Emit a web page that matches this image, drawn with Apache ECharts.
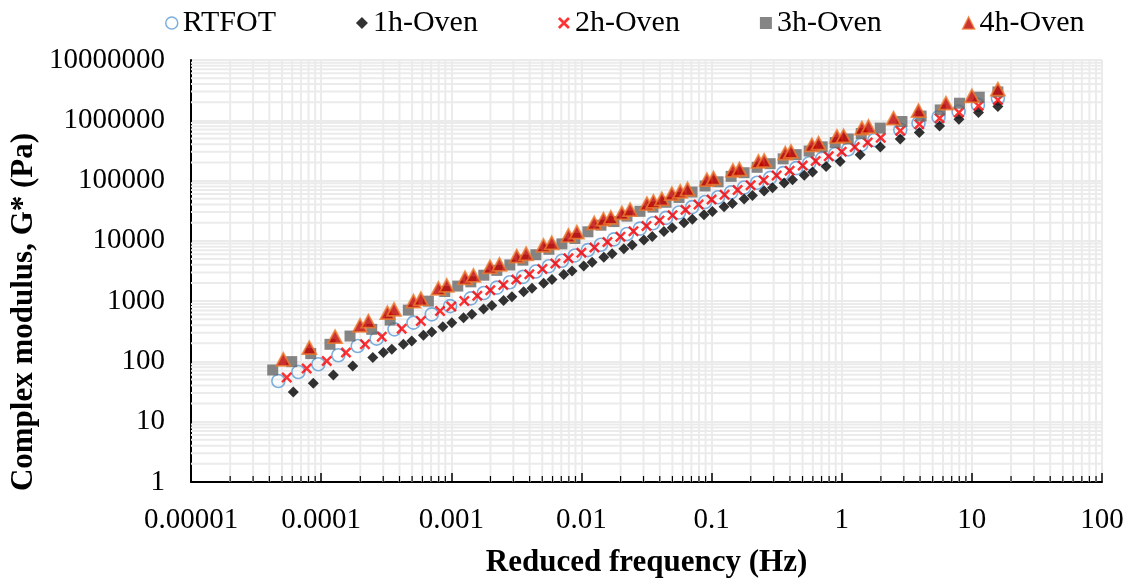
<!DOCTYPE html>
<html>
<head>
<meta charset="utf-8">
<script src="https://cdn.jsdelivr.net/npm/echarts@6/dist/echarts.min.js"></script>
<style>
  html, body { margin: 0; padding: 0; background: #fff; }
  #chart { width: 1133px; height: 583px; }
</style>
</head>
<body>
<div id="chart"></div>
<script>
// [reduced frequency (Hz), |G*| (Pa)]
const rtfot = [
  [4.69e-5, 47.4], [6.68e-5, 66.8], [9.51e-5, 89.7], [1.355e-4, 126.5], [1.91e-4, 180.3],
  [2.67e-4, 238.8], [3.66e-4, 340.4], [5.12e-4, 439.5], [7.08e-4, 602.6], [9.79e-4, 826],
  [1.413e-3, 1112], [1.778e-3, 1365], [2.239e-3, 1675], [2.818e-3, 2056], [3.548e-3, 2523],
  [4.467e-3, 3097], [5.623e-3, 3802], [7.079e-3, 4667], [8.913e-3, 5728], [0.01122, 7031],
  [0.01413, 8630], [0.01778, 10590], [0.02239, 13000], [0.02818, 15960], [0.03548, 19590],
  [0.04467, 24040], [0.05623, 29510], [0.07079, 36220], [0.08913, 44060], [0.1122, 52970],
  [0.1413, 63680], [0.1778, 76560], [0.2239, 92050], [0.2818, 110700], [0.3548, 133000],
  [0.4467, 160700], [0.5623, 193600], [0.7079, 231200], [0.8913, 275400], [1.122, 329600],
  [1.413, 393600], [1.778, 469900],
  [2.818, 693400], [3.89, 895000], [5.546, 1127000], [7.907, 1393000], [11.14, 1799000], [15.85, 2323000]
];
const oven1h = [
  [6.11e-5, 31.2], [8.71e-5, 43.5], [1.242e-4, 59.7], [1.75e-4, 84.1], [2.495e-4, 115.9],
  [3.006e-4, 140], [3.49e-4, 158.9], [4.285e-4, 192.3], [4.966e-4, 218.3], [6.109e-4, 271],
  [7.079e-4, 307.6], [8.61e-4, 377.6], [1.009e-3, 437.5], [1.242e-3, 530.9], [1.439e-3, 608.1],
  [1.77e-3, 737.9], [2.051e-3, 847.2], [2.523e-3, 1026], [2.924e-3, 1178], [3.597e-3, 1429],
  [4.169e-3, 1637], [5.129e-3, 1986], [5.943e-3, 2275], [7.311e-3, 2761], [8.472e-3, 3170],
  [0.01042, 3837], [0.01208, 4406], [0.01486, 5333], [0.01722, 6124], [0.02118, 7430],
  [0.02455, 8511], [0.0302, 10330], [0.035, 11830], [0.04305, 14350], [0.04989, 16480],
  [0.06138, 19950], [0.07112, 22910], [0.0875, 27230], [0.1014, 30830], [0.1247, 36810],
  [0.1445, 41690], [0.1778, 49660], [0.2061, 56360], [0.2535, 67140], [0.2938, 76210],
  [0.3614, 90780], [0.4188, 102800], [0.5152, 122700], [0.597, 139000], [0.7586, 170600],
  [0.9727, 208000], [1.387, 267900], [1.982, 359700], [2.818, 487500], [3.945, 626600],
  [5.649, 807200], [7.96, 1042000], [11.25, 1343000], [15.85, 1687000]
];
const oven2h = [
  [5.44e-5, 54.1], [7.74e-5, 76.2], [1.104e-4, 101.6], [1.552e-4, 140], [2.173e-4, 192],
  [2.924e-4, 257.6], [4.159e-4, 349], [5.834e-4, 467], [8.2e-4, 684],
  [0.001, 817], [1.259e-3, 1002], [1.585e-3, 1230], [1.995e-3, 1510], [2.512e-3, 1854],
  [3.162e-3, 2275], [3.981e-3, 2793], [5.012e-3, 3428], [6.31e-3, 4207], [7.943e-3, 5164],
  [0.01, 6339], [0.01259, 7780], [0.01585, 9550], [0.01995, 11720], [0.02512, 14390],
  [0.03162, 17660], [0.03981, 21680], [0.05012, 26610], [0.0631, 32660], [0.07943, 40090],
  [0.1, 48310], [0.1259, 58080], [0.1585, 69820], [0.1995, 83950], [0.2512, 100900],
  [0.3162, 121300], [0.3981, 145900], [0.5012, 177000], [0.631, 211300], [0.7943, 252400],
  [1.0, 301300], [1.259, 359700], [1.585, 429500], [1.995, 512900],
  [2.818, 668300], [3.945, 863000], [5.649, 1084000], [7.96, 1343000], [11.25, 1734000], [15.85, 2178000]
];
const oven3h = [
  [4.246e-5, 72.1], [5.943e-5, 99.3], [8.318e-5, 134.9], [1.169e-4, 192.3], [1.667e-4, 263.6],
  [2.449e-4, 340.4], [3.388e-4, 485.3], [4.677e-4, 709.6], [6.668e-4, 1000],
  [8.913e-4, 1445], [1.122e-3, 1778], [1.413e-3, 2089], [1.778e-3, 2692], [2.239e-3, 3236],
  [2.818e-3, 3981], [3.548e-3, 4786], [4.467e-3, 5888], [5.623e-3, 7244], [7.079e-3, 8913],
  [8.913e-3, 10960], [0.01122, 14130], [0.01413, 18200], [0.01778, 20890], [0.02239, 25700],
  [0.02818, 30900], [0.03548, 36310], [0.04467, 43650], [0.05623, 52480], [0.07079, 64570],
  [0.08913, 81280], [0.1122, 95500], [0.1413, 117500], [0.1778, 134900], [0.2239, 166000],
  [0.2818, 190500], [0.3548, 229100], [0.4467, 269200], [0.5623, 309000], [0.7079, 363100],
  [0.8913, 426600], [1.122, 489800], [1.413, 602600], [1.977, 741300], [2.904, 955000],
  [4.074, 1175000], [5.715, 1486000], [8.035, 1919000], [11.4, 2415000], [15.85, 2951000]
];
const oven4h = [
  [5.117e-5, 108.4], [8.11e-5, 169.4], [1.279e-4, 257.6], [1.99e-4, 396.3], [2.307e-4, 466.7],
  [3.228e-4, 642.7], [3.631e-4, 729.5], [5.117e-4, 1000], [5.834e-4, 1096], [7.96e-4, 1622],
  [9.226e-4, 1820], [1.276e-3, 2438], [1.479e-3, 2667], [1.986e-3, 3715], [2.344e-3, 4064],
  [3.184e-3, 5572], [3.758e-3, 6109], [5.105e-3, 8395], [5.916e-3, 9290], [7.943e-3, 12270],
  [9.226e-3, 13930], [0.01253, 19860], [0.01476, 22910], [0.01683, 24550], [0.02046, 29040],
  [0.02366, 32960], [0.03184, 41400], [0.03573, 45190], [0.0415, 49550], [0.04955, 60530],
  [0.05741, 66070], [0.06531, 72440], [0.09204, 103300], [0.1035, 110200], [0.1459, 147200],
  [0.1637, 155200], [0.2291, 207500], [0.2535, 215300], [0.3681, 285800], [0.4074, 304800],
  [0.5902, 391700], [0.6637, 417800], [0.9183, 538300], [1.033, 552100], [1.429, 741300],
  [1.607, 787000], [2.5, 1084000], [3.89, 1449000], [6.324, 1919000], [10, 2535000], [15.85, 3273000]
];

const seriesNames = ['RTFOT', '1h-Oven', '2h-Oven', '3h-Oven', '4h-Oven'];
const xMin = 1e-5, xMax = 100;
const yMin = 1, yMax = 1e7;
const yTitle = 'Complex modulus, G* (Pa)';

const FONT = "'Times New Roman', 'Liberation Serif', serif";
const crossPath = 'path://M0,1.6 L1.6,0 L5,3.4 L8.4,0 L10,1.6 L6.6,5 L10,8.4 L8.4,10 L5,6.6 L1.6,10 L0,8.4 L3.4,5 Z';

// minor (2..9) grid positions on each log axis
function minorValues(lo, hi) {
  const out = [];
  for (let e = Math.log10(lo); e < Math.log10(hi); e++) {
    for (let k = 2; k <= 9; k++) out.push(k * Math.pow(10, e));
  }
  return out;
}
const xMinor = minorValues(xMin, xMax);
const yMinor = minorValues(yMin, yMax);

const gridColor = '#ebebeb';

const chart = echarts.init(document.getElementById('chart'));

const option = {
  animation: false,
  textStyle: { fontFamily: FONT },
  legend: {
    top: 3,
    left: 160,
    itemGap: 80,
    itemWidth: 12,
    itemHeight: 12,
    textStyle: { fontFamily: FONT, fontSize: 30, color: '#000' },
    data: [
      { name: 'RTFOT', icon: 'circle', itemStyle: { color: 'transparent', borderColor: '#5B9BD5', borderWidth: 1.5 } },
      { name: '1h-Oven', icon: 'diamond', itemStyle: { color: '#000' } },
      { name: '2h-Oven', icon: crossPath, itemStyle: { color: '#ff0000' } },
      { name: '3h-Oven', icon: 'rect', itemStyle: { color: '#666666' } },
      { name: '4h-Oven', icon: 'triangle', itemStyle: { color: '#C00000', borderColor: '#ED7D31', borderWidth: 1.5 } }
    ]
  },
  // y-axis title sits lower than the plot centre in the original, so it is placed by hand
  graphic: [{
    type: 'text', x: 24, y: 312, rotation: Math.PI / 2,
    style: {
      text: yTitle, fill: '#000', align: 'center', verticalAlign: 'middle',
      font: "bold 31px 'Times New Roman', 'Liberation Serif', serif"
    }
  }],
  grid: {
    left: 191, right: 31, top: 60, bottom: 100,
    show: true, borderColor: '#000', borderWidth: 1
  },
  xAxis: {
    type: 'log', logBase: 10, min: xMin, max: xMax, splitNumber: 7,
    name: 'Reduced frequency (Hz)', nameLocation: 'middle', nameGap: 65,
    nameTextStyle: { fontFamily: FONT, fontSize: 31, fontWeight: 'bold', color: '#000' },
    axisLine: { lineStyle: { color: '#000', width: 2 } },
    axisTick: { inside: true, length: 9, lineStyle: { color: '#000', width: 1.5 } },
    axisLabel: {
      fontFamily: FONT, fontSize: 29, color: '#000', margin: 24,
      formatter: v => v < 1 ? v.toFixed(Math.round(-Math.log10(v))) : String(Math.round(v))
    },
    splitLine: { show: true, lineStyle: { color: gridColor, width: 2 } }
  },
  yAxis: {
    type: 'log', logBase: 10, min: yMin, max: yMax, splitNumber: 7,
    axisLine: { show: true, lineStyle: { color: '#000', width: 2 } },
    axisTick: { show: false },
    axisLabel: {
      fontFamily: FONT, fontSize: 29, color: '#000', margin: 26,
      formatter: v => String(Math.round(v))
    },
    splitLine: { show: true, lineStyle: { color: gridColor, width: 2 } }
  },
  series: [
    {
      // minor vertical grid lines + minor ticks on the bottom axis
      type: 'custom', silent: true, z: 1,
      data: xMinor.map(v => [v, yMin]),
      renderItem: (params, api) => {
        const b = api.coord([api.value(0), yMin]);
        const t = api.coord([api.value(0), yMax]);
        return {
          type: 'group', children: [
            { type: 'line', shape: { x1: b[0], y1: b[1], x2: t[0], y2: t[1] }, style: { stroke: gridColor, lineWidth: 2 } },
            { type: 'line', shape: { x1: b[0], y1: b[1], x2: b[0], y2: b[1] - 6 }, style: { stroke: '#000', lineWidth: 1.2 }, z2: 5 }
          ]
        };
      }
    },
    {
      // minor horizontal grid lines
      type: 'custom', silent: true, z: 1,
      data: yMinor.map(v => [xMin, v]),
      renderItem: (params, api) => {
        const l = api.coord([xMin, api.value(1)]);
        const r = api.coord([xMax, api.value(1)]);
        return { type: 'line', shape: { x1: l[0], y1: l[1], x2: r[0], y2: r[1] }, style: { stroke: gridColor, lineWidth: 2 } };
      }
    },
    {
      name: seriesNames[0], type: 'scatter', z: 3, data: rtfot,
      symbol: 'circle', symbolSize: 13,
      itemStyle: { color: 'transparent', borderColor: '#5B9BD5', borderWidth: 1.6 }
    },
    {
      name: seriesNames[1], type: 'scatter', z: 3, data: oven1h,
      symbol: 'diamond', symbolSize: 11,
      itemStyle: { color: '#000' }
    },
    {
      name: seriesNames[2], type: 'scatter', z: 3, data: oven2h,
      symbol: crossPath, symbolSize: 11,
      itemStyle: { color: '#ff0000' }
    },
    {
      name: seriesNames[3], type: 'scatter', z: 3, data: oven3h,
      symbol: 'rect', symbolSize: 11,
      itemStyle: { color: '#666666' }
    },
    {
      name: seriesNames[4], type: 'scatter', z: 3, data: oven4h,
      symbol: 'triangle', symbolSize: [14, 13],
      itemStyle: { color: '#C00000', borderColor: '#ED7D31', borderWidth: 1.8 }
    }
  ]
};

chart.setOption(option);
</script>
</body>
</html>
